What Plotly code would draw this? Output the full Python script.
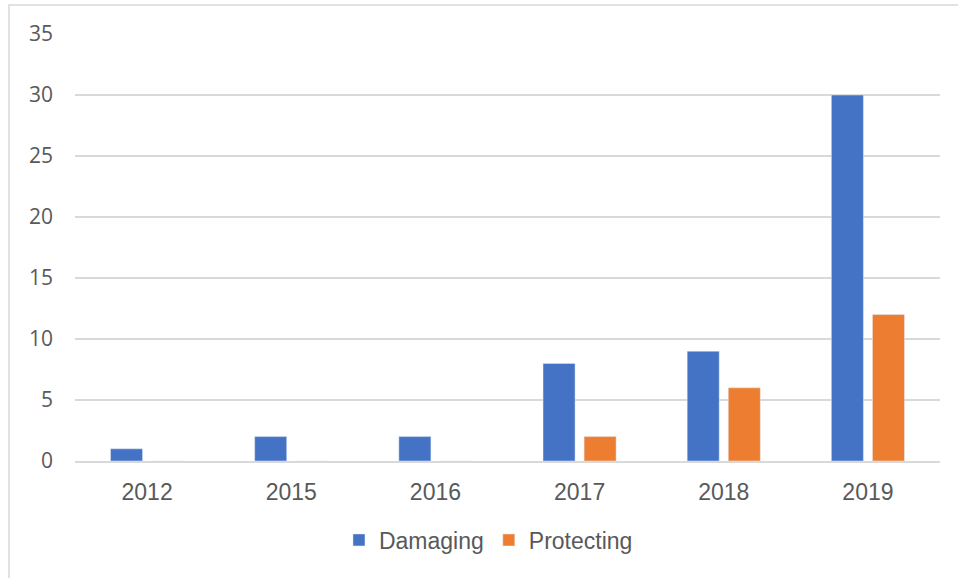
import plotly.graph_objects as go

years = ["2012", "2015", "2016", "2017", "2018", "2019"]
damaging = [1, 2, 2, 8, 9, 30]
protecting = [0, 0, 0, 2, 6, 12]
y_ticks = [0, 5, 10, 15, 20, 25, 30, 35]

fig = go.Figure()
fig.add_trace(go.Bar(name="Damaging", x=years, y=damaging, marker_color="#4472c4"))
fig.add_trace(go.Bar(name="Protecting", x=years, y=protecting, marker_color="#ed7d31"))

fig.update_layout(
    width=958, height=578,
    margin=dict(l=75, r=18, t=34, b=117),
    paper_bgcolor="white", plot_bgcolor="white",
    barmode="group", bargap=0.43, bargroupgap=0.22,
    showlegend=True,
    legend=dict(orientation="h", x=0.478, xanchor="center", y=-0.185, yanchor="middle",
                font=dict(family="Liberation Sans, Arial", size=23, color="#595959"),
                itemwidth=30),
    xaxis=dict(type="category", showgrid=False, showline=True, linecolor="#d9d9d9", linewidth=1.5,
               ticks="", ticklabelstandoff=10,
               tickfont=dict(family="Liberation Sans, Arial", size=23, color="#595959")),
    yaxis=dict(range=[0, 35], tickvals=y_ticks, showgrid=True, gridcolor="#d9d9d9", gridwidth=1.5,
               zeroline=False, ticks="", ticklabelstandoff=21,
               tickfont=dict(family="Open Sans", size=21, color="#595959")),
    shapes=[dict(type="rect", xref="paper", yref="paper", x0=-0.0763, x1=1.05, y0=-0.4, y1=1.068,
                 line=dict(color="#d9d9d9", width=1.5), layer="below")],
)

fig.write_html("out.html")
